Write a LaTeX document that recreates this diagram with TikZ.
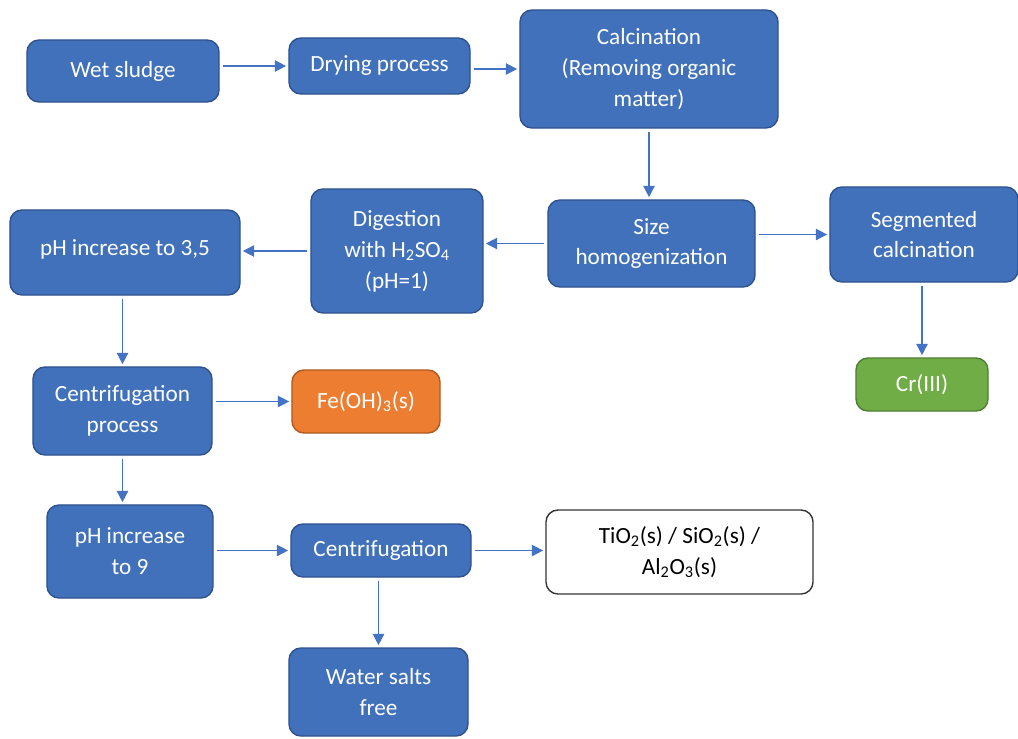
\documentclass[tikz,border=0pt]{standalone}
\usepackage{fontspec}
\setmainfont{Carlito}
\usetikzlibrary{arrows.meta, positioning}
\definecolor{boxblue}{RGB}{64,113,186}
\definecolor{edgeblue}{RGB}{47,82,143}
\definecolor{arrowblue}{RGB}{68,114,196}
\definecolor{boxorange}{RGB}{237,125,49}
\definecolor{edgeorange}{RGB}{174,90,33}
\definecolor{boxgreen}{RGB}{112,173,71}
\definecolor{edgegreen}{RGB}{80,126,50}

\begin{document}
\begin{tikzpicture}[x=0.025cm,y=-0.025cm,
  proc/.style={rectangle, rounded corners=0.3cm, draw=edgeblue, line width=1pt, fill=boxblue, text=white, align=center, inner sep=0pt, font=\fontsize{16.5}{22}\selectfont},
  product/.style={proc, draw=edgeorange, fill=boxorange},
  result/.style={proc, draw=edgegreen, fill=boxgreen},
  residue/.style={proc, draw=black!80, fill=white, text=black},
  flow/.style={-{Triangle[width=8pt,length=8pt]}, draw=arrowblue, line width=1pt, shorten <=2pt, shorten >=1.5pt}]
\useasboundingbox[fill=white] (0,0) rectangle (1018,738);
% top row
\node (wet) at (123,71) [proc, minimum width=4.8cm, minimum height=1.55cm] {Wet sludge};
\node (dry) at (379.5,66) [proc, minimum width=4.525cm, minimum height=1.4cm] {Drying process};
\node (calc) at (649,69) [proc, minimum width=6.45cm, minimum height=2.95cm] {Calcination\\(Removing organic\\matter)};
% second row
\node (size) at (651.5,243.5) [proc, minimum width=5.175cm, minimum height=2.175cm] {Size\\homogenization};
\node (seg) at (924,234.5) [proc, minimum width=4.7cm, minimum height=2.375cm] {Segmented\\calcination};
\node (dig) at (397,251) [proc, minimum width=4.3cm, minimum height=3.1cm] {Digestion\\with H\textsubscript{2}SO\textsubscript{4}\\(pH=1)};
\node (ph35) at (125,252.5) [proc, minimum width=5.75cm, minimum height=2.125cm] {\raisebox{0.25cm}{pH increase to 3,5}};
% third row
\node (cent1) at (122.5,411) [proc, minimum width=4.475cm, minimum height=2.2cm] {Centrifugation\\process};
\node (fe) at (366,401.5) [product, minimum width=3.7cm, minimum height=1.575cm] {Fe(OH)\textsubscript{3}(s)};
\node (cr) at (922,384.5) [result, minimum width=3.3cm, minimum height=1.325cm] {Cr(III)};
% bottom rows
\node (ph9) at (130,551.5) [proc, minimum width=4.15cm, minimum height=2.325cm] {pH increase\\to 9};
\node (cent2) at (381,550.5) [proc, minimum width=4.5cm, minimum height=1.325cm] {Centrifugation};
\node (tio) at (679.5,552) [residue, minimum width=6.675cm, minimum height=2.1cm] {TiO\textsubscript{2}(s) / SiO\textsubscript{2}(s) /\\Al\textsubscript{2}O\textsubscript{3}(s)};
\node (water) at (378.5,692) [proc, minimum width=4.475cm, minimum height=2.2cm] {Water salts\\free};
% connectors
\draw[flow] (dry.west -| wet.east) -- (dry.west);
\draw[flow] (calc.west -| dry.east) -- (calc.west);
\draw[flow] (calc.south) -- (calc.south |- size.north);
\draw[flow] (size.west) -- (size.west -| dig.east);
\draw[flow] (dig.west) -- (dig.west -| ph35.east);
\draw[flow] (seg.west -| size.east) -- (seg.west);
\draw[flow] (cr.north |- seg.south) -- (cr.north);
\draw[flow] (cent1.north |- ph35.south) -- (cent1.north);
\draw[flow] (fe.west -| cent1.east) -- (fe.west);
\draw[flow] (cent1.south) -- (cent1.south |- ph9.north);
\draw[flow] (cent2.west -| ph9.east) -- (cent2.west);
\draw[flow] (cent2.east) -- (cent2.east -| tio.west);
\draw[flow] (water.north |- cent2.south) -- (water.north);
\end{tikzpicture}
\end{document}
